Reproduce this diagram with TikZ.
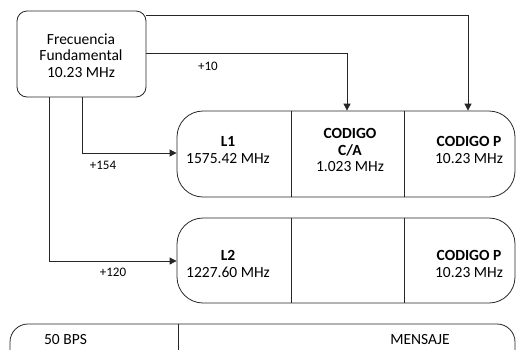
\documentclass[tikz,border=0pt]{standalone}
\usepackage{fontspec}
\setmainfont{Carlito}
\usetikzlibrary{arrows.meta}
\begin{document}
\begin{tikzpicture}[x=1pt,y=-1pt,
  ln/.style={draw=black!85, line width=0.8pt},
  arr/.style={ln, -{Triangle[length=7pt,width=7pt]}},
  box/.style={ln, rectangle, inner sep=0pt},
  txt/.style={align=center, inner sep=0pt, font=\fontsize{15.5}{16.7}\selectfont},
  lbl/.style={inner sep=0pt, font=\fontsize{13}{15}\selectfont}]
\clip (0,0) rectangle (516,349);
% boxes
\node[box, rounded corners=10pt, minimum width=129pt, minimum height=86pt] (freq) at (81.5,54) {};
\node[txt] (freqt) at (81,55.5) {Frecuencia\\Fundamental\\10.23 MHz};
\node[box, rounded corners=26pt, minimum width=338pt, minimum height=86pt] (L1box) at (346,154) {};
\node[box, rounded corners=26pt, minimum width=338pt, minimum height=85pt] (L2box) at (346,260.5) {};
\node[box, rounded corners=18pt, minimum width=505pt, minimum height=50pt] (msg) at (262.5,349) {};
% dividers
\draw[ln] (L1box.north -| 291,0) -- (L1box.south -| 291,0);
\draw[ln] (L1box.north -| 404,0) -- (L1box.south -| 404,0);
\draw[ln] (L2box.north -| 291,0) -- (L2box.south -| 291,0);
\draw[ln] (L2box.north -| 404,0) -- (L2box.south -| 404,0);
\draw[ln] (msg.north -| 178,0) -- (msg.south -| 178,0);
% texts
\node[txt] (l1t) at (228,150) {\textbf{L1}\\1575.42 MHz};
\node[txt] (cat) at (350,150) {\textbf{CODIGO}\\\textbf{C/A}\\1.023 MHz};
\node[txt] (p1t) at (469,150) {\textbf{CODIGO P}\\10.23 MHz};
\node[txt] (l2t) at (228,264) {\textbf{L2}\\1227.60 MHz};
\node[txt] (p2t) at (469,264) {\textbf{CODIGO P}\\10.23 MHz};
\node[txt] (bps) at (65.5,340) {50 BPS};
\node[txt] (men) at (420,340) {MENSAJE};
% connectors
\draw[arr] (freq.east |- 0,15) -| (L1box.north -| 468,0);
\draw[arr] (freq.east |- 0,53) -| (L1box.north -| 347,0);
\draw[arr] (freq.south -| 82,0) |- (L1box.west |- 0,153);
\draw[arr] (freq.south -| 49,0) |- (L2box.west |- 0,261);
% labels
\node[lbl] (p10) at (208,66) {+10};
\node[lbl] (p154) at (103,165) {+154};
\node[lbl] (p120) at (113,272) {+120};
\end{tikzpicture}
\end{document}
